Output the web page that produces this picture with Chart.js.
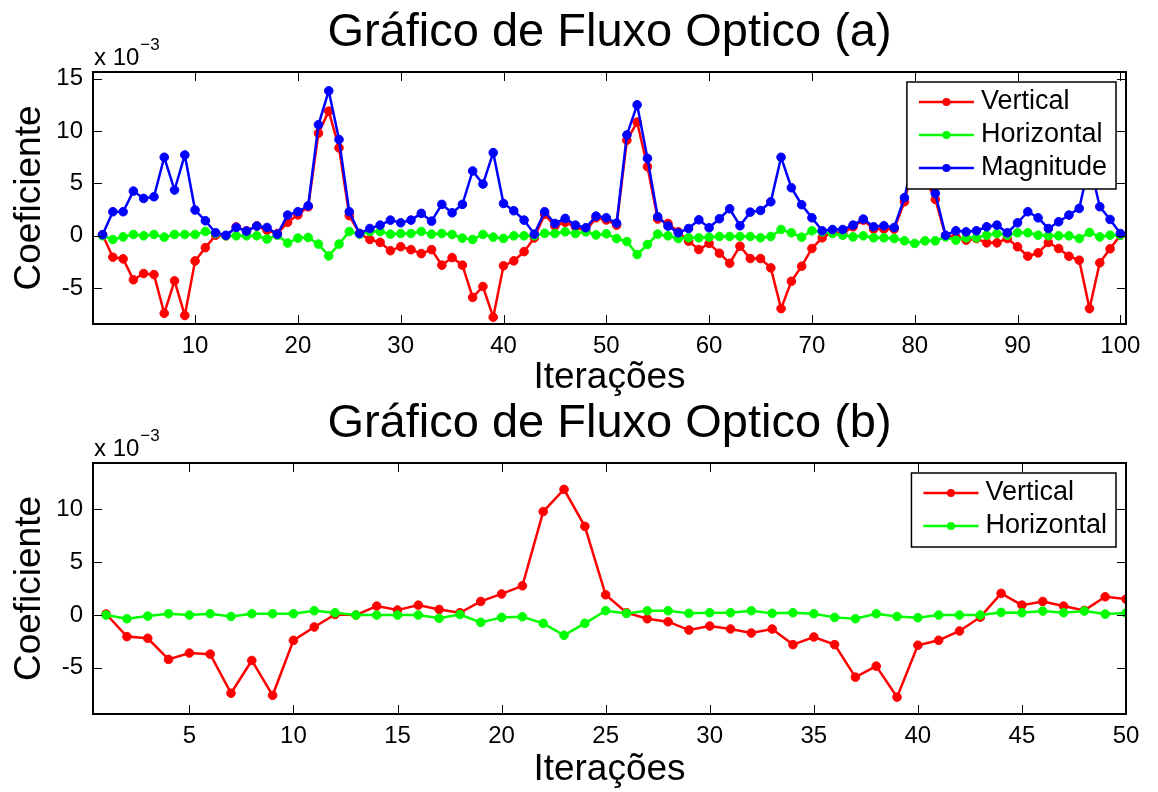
<!DOCTYPE html>
<html lang="pt">
<head>
<meta charset="UTF-8">
<title>Gráfico de Fluxo Optico</title>
<script src="https://cdn.jsdelivr.net/npm/chart.js"></script>
<style>
  body { margin: 0; background: #fff; }
  #wrap { position: relative; width: 1158px; height: 792px; }
  canvas { position: absolute; left: 0; }
  #chartA { top: 0; }
  #chartB { top: 391px; }
</style>
</head>
<body>
<div id="wrap">
  <canvas id="chartA" width="1158" height="400"></canvas>
  <canvas id="chartB" width="1158" height="401"></canvas>
</div>
<script>
// values are in units of 10^-3
const iteracoes = Array.from({length: 100}, (_, i) => i + 1);

const vertical = [
  0.1, -2.04, -2.2, -4.2, -3.6, -3.7, -7.4, -4.3, -7.6, -2.4,
  -1.13, 0.06, 0.0, 0.85, 0.47, 0.94, 0.53, 0.22, 1.29, 2.0,
  2.77, 9.8, 11.9, 8.4, 1.92, 0.22, -0.35, -0.63, -1.42, -1.04,
  -1.32, -1.7, -1.32, -2.8, -2.08, -2.8, -5.88, -4.84, -7.77, -2.86,
  -2.39, -1.51, -0.2, 2.05, 0.94, 1.29, 0.85, 0.44, 1.73, 1.51,
  1.02, 9.12, 10.85, 6.6, 1.6, 1.18, 0.38, -0.51, -1.31, -0.73,
  -1.66, -2.62, -0.99, -2.17, -2.17, -3.06, -6.95, -4.34, -2.9, -1.21,
  -0.19, 0.38, 0.22, 0.86, 1.5, 0.64, 0.64, 0.64, 3.25, 7.5,
  5.5, 3.48, 0.0, -0.1, -0.41, -0.26, -0.67, -0.67, -0.26, -1.05,
  -1.95, -1.63, -0.64, -1.21, -1.95, -2.33, -6.95, -2.58, -1.24, 0.06
];

const horizontal = [
  0.0, -0.35, -0.1, 0.13, 0.0, 0.13, -0.13, 0.13, 0.13, 0.13,
  0.41, 0.22, 0.0, 0.0, 0.0, 0.0, -0.31, 0.05, -0.69, -0.22,
  -0.16, -0.79, -1.92, -0.79, 0.41, 0.16, 0.41, 0.41, 0.16, 0.22,
  0.22, 0.41, 0.16, 0.22, 0.13, -0.22, -0.35, 0.13, -0.13, -0.25,
  0.0, 0.0, 0.0, 0.25, 0.22, 0.38, 0.22, 0.38, 0.09, 0.19,
  -0.26, -0.55, -1.79, -0.83, 0.16, 0.0, -0.26, -0.19, -0.19, -0.13,
  -0.06, -0.06, -0.06, -0.06, -0.19, -0.06, 0.6, 0.29, -0.13, 0.48,
  0.38, 0.22, 0.06, -0.1, 0.0, -0.19, -0.19, -0.26, -0.48, -0.73,
  -0.48, -0.48, -0.1, -0.41, -0.19, -0.19, 0.06, 0.22, 0.06, 0.29,
  0.29, 0.06, 0.0, 0.0, 0.0, -0.26, 0.32, -0.1, 0.06, 0.06
];

const magnitude = [
  0.1, 2.3, 2.3, 4.27, 3.57, 3.73, 7.5, 4.37, 7.72, 2.46,
  1.44, 0.29, 0.05, 0.8, 0.45, 0.93, 0.8, 0.15, 1.98, 2.3,
  2.87, 10.6, 13.84, 9.19, 2.3, 0.22, 0.7, 1.02, 1.5, 1.24,
  1.5, 2.14, 1.4, 3.0, 2.2, 3.0, 6.19, 4.94, 7.94, 3.09,
  2.39, 1.5, 0.16, 2.3, 1.18, 1.66, 1.02, 0.77, 1.88, 1.72,
  1.21, 9.63, 12.5, 7.4, 1.82, 0.93, 0.29, 0.7, 1.53, 0.77,
  1.63, 2.58, 0.96, 2.26, 2.42, 3.25, 7.5, 4.59, 2.97, 1.72,
  0.48, 0.6, 0.6, 1.02, 1.6, 0.86, 0.96, 0.8, 3.64, 8.0,
  6.0, 4.05, 0.06, 0.48, 0.38, 0.48, 0.86, 1.02, 0.29, 1.24,
  2.3, 1.72, 0.7, 1.34, 1.98, 2.62, 7.0, 2.78, 1.56, 0.22
];

const xTicksA = [10, 20, 30, 40, 50, 60, 70, 80, 90, 100];
const yTicksA = [-5, 0, 5, 10, 15];
const xTicksB = [5, 10, 15, 20, 25, 30, 35, 40, 45, 50];
const yTicksB = [-5, 0, 5, 10];

const FONT = "'Liberation Sans', Arial, Helvetica, sans-serif";

// MATLAB-like box, inward ticks, exponent label and legend
const matlabAxes = {
  id: 'matlabAxes',
  afterDraw(chart) {
    const {ctx, chartArea: a, scales: {x, y}} = chart;
    ctx.save();
    ctx.strokeStyle = '#000';
    ctx.lineWidth = 1;
    ctx.beginPath();
    x.ticks.forEach(t => {
      const px = Math.round(x.getPixelForValue(t.value)) + 0.5;
      ctx.moveTo(px, a.bottom); ctx.lineTo(px, a.bottom - 9);
      ctx.moveTo(px, a.top); ctx.lineTo(px, a.top + 9);
    });
    y.ticks.forEach(t => {
      const py = Math.round(y.getPixelForValue(t.value)) + 0.5;
      ctx.moveTo(a.left, py); ctx.lineTo(a.left + 9, py);
      ctx.moveTo(a.right, py); ctx.lineTo(a.right - 9, py);
    });
    ctx.stroke();

    // exponent
    ctx.fillStyle = '#000';
    ctx.textAlign = 'left';
    ctx.textBaseline = 'alphabetic';
    ctx.font = `24px ${FONT}`;
    ctx.fillText('x 10', a.left + 1, a.top - 7);
    const w = ctx.measureText('x 10').width;
    ctx.font = `17px ${FONT}`;
    ctx.fillText('\u22123', a.left + 2 + w, a.top - 22);

    // legend
    const items = chart.data.datasets;
    ctx.font = `27px ${FONT}`;
    const tw = Math.max(...items.map(d => ctx.measureText(d.label).width));
    const bw = 12 + 55 + 7 + tw + 9;
    const rowH = 33;
    const bh = 20 + rowH * (items.length - 1) + 21;
    const bx = a.right - 10 - bw, by = a.top + 10;
    ctx.fillStyle = '#fff';
    ctx.fillRect(bx, by, bw, bh);
    ctx.lineWidth = 1.5;
    ctx.strokeStyle = '#000';
    ctx.strokeRect(bx, by, bw, bh);
    items.forEach((d, i) => {
      const cy = by + 20 + i * rowH;
      ctx.strokeStyle = d.borderColor;
      ctx.lineWidth = 2.5;
      ctx.beginPath();
      ctx.moveTo(bx + 12, cy); ctx.lineTo(bx + 67, cy);
      ctx.stroke();
      ctx.fillStyle = d.borderColor;
      ctx.beginPath();
      ctx.arc(bx + 39.5, cy, 4, 0, 2 * Math.PI);
      ctx.fill();
      ctx.fillStyle = '#000';
      ctx.textBaseline = 'middle';
      ctx.fillText(d.label, bx + 74, cy);
    });

    // box
    ctx.strokeStyle = '#000';
    ctx.lineWidth = 2;
    ctx.strokeRect(a.left, a.top, a.right - a.left, a.bottom - a.top);
    ctx.restore();
  }
};

function series(label, data, color, order) {
  return {
    label, data, order,
    borderColor: color, backgroundColor: color,
    borderWidth: 2.5, tension: 0,
    pointRadius: 4.3, pointBorderWidth: 1,
    pointBackgroundColor: color, pointBorderColor: color
  };
}

function makeChart(id, title, labels, datasets, xr, yr, xTicks, yTicks, xAxisH) {
  return new Chart(document.getElementById(id), {
    type: 'line',
    data: { labels, datasets },
    options: {
      responsive: false,
      animation: false,
      layout: { padding: { left: 0, right: 32, top: 0, bottom: 0 } },
      plugins: {
        legend: { display: false },
        tooltip: { enabled: false },
        title: {
          display: true, text: title, color: '#000', fullSize: false,
          font: { family: FONT, size: 47, weight: 'normal' },
          padding: { top: 5, bottom: 10.6 }
        }
      },
      scales: {
        x: {
          type: 'linear', min: xr[0], max: xr[1],
          afterBuildTicks: s => { s.ticks = xTicks.map(v => ({ value: v })); },
          afterFit: s => { s.height = xAxisH; },
          grid: { display: false, drawTicks: false },
          border: { display: false },
          ticks: { color: '#000', padding: 8, font: { family: FONT, size: 24 } },
          title: {
            display: true, text: 'Iterações', color: '#000',
            font: { family: FONT, size: 37 }, padding: { top: 0, bottom: 0 }
          }
        },
        y: {
          min: yr[0], max: yr[1],
          afterBuildTicks: s => { s.ticks = yTicks.map(v => ({ value: v })); },
          afterFit: s => { s.width = 93; },
          grid: { display: false, drawTicks: false },
          border: { display: false },
          ticks: { color: '#000', padding: 10, font: { family: FONT, size: 24 } },
          title: {
            display: true, text: 'Coeficiente', color: '#000',
            font: { family: FONT, size: 37 }, padding: { top: 8, bottom: 0 }
          }
        }
      }
    },
    plugins: [matlabAxes]
  });
}

makeChart('chartA', 'Gráfico de Fluxo Optico (a)', iteracoes, [
  series('Vertical', vertical, '#ff0000', 3),
  series('Horizontal', horizontal, '#00ff00', 2),
  series('Magnitude', magnitude, '#0000ff', 1)
], [0.07, 100.55], [-8.42, 15.64], xTicksA, yTicksA, 76);

makeChart('chartB', 'Gráfico de Fluxo Optico (b)', iteracoes.slice(0, 50), [
  series('Vertical', vertical.slice(0, 50), '#ff0000', 2),
  series('Horizontal', horizontal.slice(0, 50), '#00ff00', 1)
], [0.37, 50], [-9.37, 14.4], xTicksB, yTicksB, 78);
</script>
</body>
</html>
